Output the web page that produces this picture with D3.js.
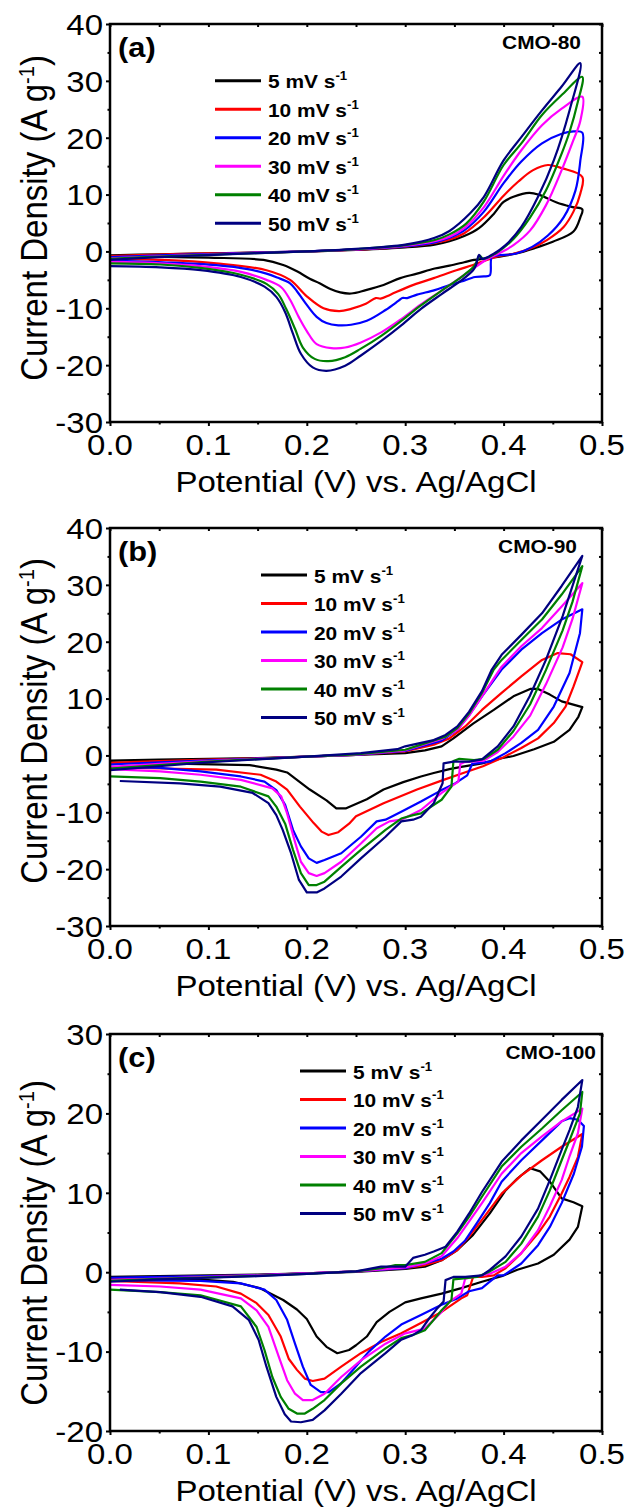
<!DOCTYPE html>
<html>
<head>
<meta charset="utf-8">
<script src="https://cdn.jsdelivr.net/npm/d3@7"></script>
<style>
  body { margin: 0; background: #fff; }
  svg { display: block; }
  text { font-family: "Liberation Sans", Arial, sans-serif; fill: #000; }
</style>
</head>
<body>
<svg id="chart" width="631" height="1512"></svg>
<script>
// scan rates and colours
const scanRates = [5, 10, 20, 30, 40, 50];
const colors = ["#000000", "#ff0000", "#0000ff", "#ff00ff", "#008000", "#000080"];

const panelTags = ["(a)", "(b)", "(c)"];
const sampleNames = ["CMO-80", "CMO-90", "CMO-100"];
const yDomains = [[-30, 40], [-30, 40], [-20, 30]];
const yTicks = [[-30, -20, -10, 0, 10, 20, 30, 40], [-30, -20, -10, 0, 10, 20, 30, 40], [-20, -10, 0, 10, 20, 30]];
const xTicks = [0, 0.1, 0.2, 0.3, 0.4, 0.5];
const xMinor = [0.05, 0.15, 0.25, 0.35, 0.45];

// CMO-80, [potential V, current density A/g], anodic then cathodic sweep
const a5 = [[0,-0.7],[0.05,-0.5],[0.1,-0.35],[0.15,-0.2],[0.2,-0.05],[0.25,0.25],[0.3,0.7],[0.33,1.2],[0.345,1.8],[0.36,2.7],[0.375,4.1],[0.39,6.6],[0.4,8.7],[0.41,9.6],[0.426,10.3],[0.437,9.9],[0.454,8.6],[0.47,7.8],[0.48,7.4],
  [0.478,6.0],[0.471,3.5],[0.45,1.7],[0.43,0.5],[0.413,-0.35],[0.396,-0.9],[0.383,-1.2],[0.37,-1.5],[0.36,-1.9],[0.345,-2.5],[0.33,-3.0],[0.312,-3.9],[0.295,-4.7],[0.278,-5.9],[0.26,-6.8],[0.245,-7.4],[0.234,-7.2],[0.224,-6.6],[0.213,-5.6],[0.203,-4.8],[0.19,-3.5],[0.176,-2.4],[0.156,-1.5],[0.1,-1.1],[0.054,-0.95],[0,-0.9]];
const a10 = [[0,-0.8],[0.05,-0.55],[0.1,-0.35],[0.15,-0.2],[0.2,0],[0.25,0.3],[0.3,0.85],[0.33,1.5],[0.345,2.1],[0.36,3.2],[0.38,6.0],[0.4,9.8],[0.415,12.3],[0.43,14.3],[0.445,15.2],[0.46,14.6],[0.48,13.1],
  [0.478,10.2],[0.471,7.0],[0.461,4.3],[0.444,2.0],[0.427,0.5],[0.41,-0.4],[0.396,-0.8],[0.383,-1.5],[0.369,-2.4],[0.352,-3.3],[0.329,-4.7],[0.305,-6.1],[0.285,-7.6],[0.275,-8.3],[0.27,-8.2],[0.26,-9.2],[0.245,-10.1],[0.233,-10.5],[0.217,-10.0],[0.2,-7.9],[0.183,-5.0],[0.159,-3.3],[0.108,-2.1],[0.054,-1.5],[0,-1.3]];
const a20 = [[0,-1.0],[0.05,-0.7],[0.1,-0.45],[0.15,-0.2],[0.2,0],[0.25,0.35],[0.3,0.9],[0.33,1.6],[0.345,2.4],[0.36,3.7],[0.38,7.0],[0.4,12.0],[0.418,15.8],[0.439,19.0],[0.459,20.7],[0.471,21.1],[0.48,20.9],
  [0.478,16],[0.473,10.7],[0.461,6.0],[0.445,2.8],[0.429,0.8],[0.412,-0.4],[0.394,-0.7],[0.388,-1.0],[0.386,-4.2],[0.38,-4.4],[0.371,-4.5],[0.357,-5.3],[0.345,-5.9],[0.33,-6.8],[0.312,-7.6],[0.302,-8.2],[0.297,-8.2],[0.293,-8.7],[0.28,-10.3],[0.261,-12.2],[0.245,-12.9],[0.232,-13.0],[0.22,-12.6],[0.21,-11.5],[0.2,-9.4],[0.19,-7.0],[0.183,-5.6],[0.17,-4.6],[0.159,-3.9],[0.14,-3.1],[0.108,-2.4],[0.054,-1.9],[0,-1.6]];
const a30 = [[0,-1.2],[0.05,-0.85],[0.1,-0.55],[0.15,-0.25],[0.2,0],[0.25,0.35],[0.3,1.0],[0.33,1.8],[0.345,2.6],[0.36,4.1],[0.38,7.8],[0.4,13.3],[0.418,17.8],[0.439,22.2],[0.459,25.1],[0.48,27.2],
  [0.478,23],[0.471,19.6],[0.459,14.3],[0.443,8.1],[0.427,3.7],[0.41,1.1],[0.398,-0.1],[0.384,-1.3],[0.371,-2.8],[0.357,-4.5],[0.337,-6.9],[0.316,-9.3],[0.296,-11.9],[0.276,-14.2],[0.255,-16.0],[0.239,-16.9],[0.225,-17.0],[0.21,-16.3],[0.2,-14.0],[0.192,-11.6],[0.183,-8.5],[0.174,-6.3],[0.159,-5.0],[0.133,-3.6],[0.092,-2.6],[0.051,-2.1],[0,-1.8]];
const a40 = [[0,-1.3],[0.05,-0.9],[0.1,-0.6],[0.15,-0.3],[0.2,0],[0.25,0.4],[0.3,1.1],[0.33,2.0],[0.345,3.0],[0.362,4.9],[0.38,8.8],[0.4,15.2],[0.418,19.0],[0.439,24.0],[0.459,27.5],[0.48,30.7],
  [0.475,26],[0.467,21],[0.459,17.2],[0.443,10.7],[0.427,6.0],[0.41,2.2],[0.394,-0.1],[0.379,-1.3],[0.376,-0.8],[0.372,-2.0],[0.369,-2.8],[0.357,-4.5],[0.337,-6.9],[0.316,-9.5],[0.296,-12.2],[0.276,-14.8],[0.255,-17.1],[0.239,-18.6],[0.222,-19.3],[0.208,-18.9],[0.196,-16.9],[0.188,-13.6],[0.179,-10.1],[0.171,-7.5],[0.159,-5.7],[0.133,-4.1],[0.092,-2.9],[0.051,-2.3],[0,-2.1]];
const a50 = [[0,-1.5],[0.05,-1.0],[0.1,-0.65],[0.15,-0.3],[0.2,0],[0.25,0.45],[0.3,1.2],[0.33,2.4],[0.345,3.6],[0.366,6.7],[0.38,9.6],[0.4,16.0],[0.418,20.1],[0.439,24.8],[0.459,29],[0.478,33.1],
  [0.467,24.8],[0.451,16],[0.435,9.6],[0.418,4.3],[0.402,1.1],[0.39,-0.4],[0.378,-1.3],[0.375,-0.6],[0.372,-2.4],[0.369,-3.3],[0.357,-5.1],[0.337,-7.5],[0.316,-10.1],[0.296,-13],[0.276,-15.7],[0.255,-18.3],[0.239,-20.1],[0.22,-21.0],[0.206,-20.4],[0.194,-18],[0.186,-14.5],[0.178,-10.7],[0.169,-8.0],[0.157,-6.2],[0.133,-4.5],[0.092,-3.3],[0.051,-2.8],[0,-2.6]];

// CMO-90
const b5 = [[0,-0.9],[0.05,-0.75],[0.1,-0.6],[0.15,-0.45],[0.2,-0.2],[0.25,0.1],[0.3,0.4],[0.32,0.9],[0.337,1.6],[0.349,3.0],[0.369,5.6],[0.39,8.0],[0.41,10.4],[0.427,11.7],[0.435,11.7],[0.447,10.7],[0.459,9.5],[0.48,8.5],
  [0.476,6.8],[0.467,4.5],[0.451,2.4],[0.431,1.1],[0.41,-0.1],[0.398,-0.5],[0.378,-1.4],[0.357,-2.0],[0.345,-2.4],[0.329,-3.1],[0.316,-3.7],[0.298,-4.7],[0.278,-6.0],[0.261,-7.7],[0.24,-9.3],[0.23,-9.3],[0.22,-7.9],[0.203,-6.0],[0.19,-4.3],[0.18,-3.0],[0.169,-2.5],[0.142,-1.7],[0.054,-1.4],[0,-1.3]];
const b10 = [[0,-1.3],[0.05,-1.0],[0.1,-0.75],[0.15,-0.5],[0.2,-0.2],[0.25,0.1],[0.3,0.7],[0.329,1.9],[0.345,3.0],[0.361,5.1],[0.378,8.0],[0.398,11.0],[0.418,13.9],[0.439,16.8],[0.455,18.0],[0.468,17.8],[0.48,16.4],
  [0.471,12.1],[0.463,8.6],[0.451,5.7],[0.435,3.0],[0.418,1.3],[0.4,-0.3],[0.379,-1.9],[0.359,-3.1],[0.339,-4.3],[0.312,-6.0],[0.278,-8.4],[0.25,-10.7],[0.243,-12.0],[0.232,-13.5],[0.222,-14.0],[0.215,-13.4],[0.207,-11.9],[0.193,-9.0],[0.18,-6.0],[0.169,-4.6],[0.153,-3.4],[0.108,-2.5],[0.054,-2.3],[0,-2.1]];
const b20 = [[0,-1.6],[0.05,-1.2],[0.1,-0.85],[0.15,-0.55],[0.2,-0.2],[0.25,0.1],[0.3,0.8],[0.316,1.6],[0.337,2.6],[0.353,4.5],[0.365,7.1],[0.378,10.4],[0.398,15.1],[0.418,18.6],[0.439,21.5],[0.459,23.9],[0.48,25.7],
  [0.4776,21.5],[0.467,14.5],[0.451,8.6],[0.435,4.5],[0.418,2.2],[0.402,0.4],[0.386,-1.1],[0.368,-1.5],[0.363,-3.5],[0.35,-5.0],[0.337,-6.1],[0.316,-8.1],[0.296,-9.9],[0.28,-11.3],[0.271,-11.6],[0.255,-14.3],[0.235,-17.2],[0.218,-18.4],[0.21,-18.9],[0.202,-18.1],[0.194,-16.0],[0.186,-13.1],[0.178,-8.7],[0.169,-6.1],[0.157,-4.6],[0.133,-3.7],[0.092,-2.8],[0.051,-2.2],[0,-2.0]];
const b30 = [[0,-2.0],[0.05,-1.5],[0.1,-1.0],[0.15,-0.6],[0.2,-0.2],[0.25,0.15],[0.3,0.9],[0.337,2.9],[0.353,4.5],[0.365,7.0],[0.378,10.4],[0.398,15.6],[0.418,19.2],[0.439,22.4],[0.459,26.2],[0.48,30.3],
  [0.47,24],[0.46,19],[0.443,12.5],[0.427,7],[0.41,3.3],[0.394,0.6],[0.38,-0.9],[0.36,-1.2],[0.356,-1.5],[0.354,-4.6],[0.337,-6.6],[0.316,-9.6],[0.296,-11.3],[0.284,-11.6],[0.271,-12.8],[0.255,-15.5],[0.235,-18.7],[0.218,-20.7],[0.21,-21.2],[0.202,-20.7],[0.194,-18.7],[0.188,-15.2],[0.18,-10.2],[0.174,-7.2],[0.165,-5.8],[0.133,-4.3],[0.092,-3.4],[0.051,-2.8],[0,-2.4]];
const b40 = [[0,-2.3],[0.05,-1.7],[0.1,-1.1],[0.15,-0.65],[0.2,-0.2],[0.25,0.2],[0.3,1.0],[0.316,1.9],[0.341,3.3],[0.353,4.8],[0.365,7.4],[0.378,11.0],[0.39,15.1],[0.398,16.8],[0.418,20.3],[0.439,23.9],[0.459,28.3],[0.48,33.3],
  [0.47,27],[0.46,22],[0.443,15],[0.427,9],[0.41,4.3],[0.394,1.0],[0.38,-0.6],[0.37,-0.8],[0.355,-0.6],[0.349,-1.0],[0.347,-5.5],[0.337,-7.8],[0.316,-10.2],[0.308,-10.5],[0.296,-11.1],[0.28,-13.1],[0.255,-16.6],[0.235,-19.6],[0.218,-22.2],[0.21,-22.8],[0.202,-22.8],[0.194,-20.7],[0.186,-16.6],[0.178,-12.0],[0.169,-9.0],[0.161,-7.2],[0.133,-5.5],[0.092,-4.6],[0.051,-4.0],[0,-3.7]];
const b50 = [[0,-2.6],[0.05,-1.9],[0.1,-1.2],[0.15,-0.7],[0.2,-0.2],[0.255,0.4],[0.292,1.1],[0.3,1.6],[0.316,2.2],[0.329,2.7],[0.341,3.6],[0.353,5.1],[0.365,7.7],[0.378,11.3],[0.388,15.1],[0.398,17.7],[0.418,21.2],[0.439,25.0],[0.459,29.8],[0.48,35.1],
  [0.46,24.5],[0.443,16.8],[0.4265,10.4],[0.41,5.1],[0.394,1.6],[0.378,-0.7],[0.365,-1.1],[0.349,-1.1],[0.339,-1.4],[0.338,-4.9],[0.329,-8.4],[0.316,-10.8],[0.308,-11.3],[0.296,-11.6],[0.28,-14.3],[0.255,-18.1],[0.235,-21.3],[0.218,-23.4],[0.21,-24.1],[0.2,-24.1],[0.192,-21.9],[0.184,-17.2],[0.1755,-13.1],[0.169,-10.5],[0.161,-8.4],[0.145,-6.6],[0.112,-5.5],[0.071,-4.9],[0.01,-4.5]];

// CMO-100
const c5 = [[0,-0.6],[0.05,-0.5],[0.1,-0.4],[0.15,-0.3],[0.2,-0.15],[0.25,0.05],[0.3,0.4],[0.32,0.7],[0.337,1.5],[0.353,2.8],[0.369,4.7],[0.386,7.4],[0.402,10.3],[0.414,11.8],[0.427,13.1],[0.437,12.7],[0.447,11.4],[0.459,9.3],[0.471,8.8],[0.48,8.3],
  [0.4755,5.7],[0.467,4.1],[0.451,2.2],[0.435,1.1],[0.414,0.3],[0.398,-0.5],[0.378,-1.2],[0.357,-2.0],[0.337,-2.7],[0.316,-3.3],[0.3,-3.8],[0.284,-5.0],[0.271,-6.3],[0.261,-8.1],[0.25,-9.2],[0.243,-9.8],[0.231,-10.2],[0.22,-9.4],[0.21,-8.1],[0.2,-5.9],[0.19,-4.7],[0.176,-3.5],[0.152,-2.0],[0.125,-1.2],[0.1,-1.0],[0.05,-0.9],[0,-0.8]];
const c10 = [[0,-0.8],[0.05,-0.65],[0.1,-0.5],[0.15,-0.35],[0.2,-0.15],[0.25,0.1],[0.3,0.5],[0.32,0.9],[0.337,1.5],[0.353,2.8],[0.365,4.5],[0.378,6.6],[0.398,9.9],[0.418,12.2],[0.439,14.1],[0.459,15.8],[0.48,17.4],
  [0.4755,14.5],[0.467,12.0],[0.459,9.9],[0.447,7.0],[0.435,4.9],[0.418,2.4],[0.402,0.5],[0.39,-0.4],[0.378,-0.6],[0.369,-0.6],[0.363,-2.9],[0.357,-3.3],[0.337,-5.0],[0.316,-6.4],[0.296,-7.7],[0.2755,-8.8],[0.255,-10.2],[0.235,-11.9],[0.218,-13.4],[0.206,-13.7],[0.198,-13.4],[0.19,-12.3],[0.1816,-10.9],[0.1735,-8.1],[0.161,-5.4],[0.149,-3.9],[0.133,-2.7],[0.108,-1.8],[0.071,-1.4],[0,-1.1]];
const c20 = [[0,-0.7],[0.05,-0.6],[0.1,-0.5],[0.15,-0.35],[0.2,-0.15],[0.25,0.1],[0.3,0.5],[0.32,1.1],[0.337,1.7],[0.349,2.6],[0.361,4.0],[0.373,6.2],[0.386,8.7],[0.398,11.4],[0.418,14.1],[0.439,16.6],[0.459,19.0],[0.467,19.4],[0.4755,19.2],[0.4816,18.4],
  [0.4796,15.8],[0.4714,12.4],[0.459,8.7],[0.447,5.7],[0.435,3.4],[0.418,1.1],[0.406,0.1],[0.4,-0.4],[0.394,-0.4],[0.386,-1.2],[0.378,-2.0],[0.365,-2.4],[0.353,-3.3],[0.337,-4.1],[0.316,-5.4],[0.296,-6.6],[0.28,-8.1],[0.263,-10.0],[0.247,-12.3],[0.2347,-14.0],[0.2224,-15.1],[0.2143,-15.1],[0.204,-14.2],[0.196,-11.9],[0.188,-9.0],[0.18,-6.0],[0.169,-3.5],[0.157,-2.2],[0.133,-1.4],[0.092,-1.1],[0,-1.0]];
const c30 = [[0,-1.0],[0.05,-0.8],[0.1,-0.6],[0.15,-0.4],[0.2,-0.15],[0.25,0.1],[0.3,0.6],[0.32,1.1],[0.337,2.0],[0.353,4.3],[0.365,6.4],[0.378,8.7],[0.398,12.4],[0.418,15.0],[0.439,17.1],[0.459,19.0],[0.48,20.6],
  [0.4755,17.5],[0.467,14.6],[0.459,11.6],[0.447,8.3],[0.435,5.3],[0.418,2.4],[0.402,0.7],[0.386,-0.2],[0.369,-0.6],[0.361,-0.8],[0.357,-2.7],[0.345,-3.7],[0.337,-5.0],[0.32,-7.1],[0.3,-7.7],[0.28,-9.0],[0.255,-11.1],[0.235,-13.2],[0.218,-15.3],[0.206,-16.1],[0.196,-16.1],[0.188,-15.3],[0.18,-13.6],[0.1714,-10.6],[0.161,-6.9],[0.149,-4.8],[0.133,-3.3],[0.092,-2.2],[0.051,-1.8],[0,-1.6]];
const c40 = [[0,-1.1],[0.05,-0.85],[0.1,-0.65],[0.15,-0.45],[0.2,-0.2],[0.25,0.1],[0.2755,0.5],[0.29,0.9],[0.3,0.9],[0.32,1.3],[0.337,2.4],[0.353,4.9],[0.365,7.0],[0.378,9.5],[0.398,13.3],[0.418,15.8],[0.439,18.1],[0.459,20.4],[0.48,22.7],
  [0.4776,20],[0.467,16.6],[0.459,14.1],[0.447,10.3],[0.435,7.0],[0.418,3.6],[0.402,1.3],[0.386,0.1],[0.373,-0.6],[0.357,-0.8],[0.349,-0.9],[0.347,-3.5],[0.337,-4.8],[0.329,-6.0],[0.32,-7.3],[0.308,-7.9],[0.296,-8.3],[0.28,-9.6],[0.255,-11.9],[0.235,-14.0],[0.218,-16.1],[0.206,-17.2],[0.198,-17.8],[0.19,-17.8],[0.1816,-17.2],[0.1735,-15.7],[0.165,-13.2],[0.157,-9.8],[0.149,-6.9],[0.133,-4.3],[0.092,-2.9],[0.051,-2.5],[0,-2.2]];
const c50 = [[0,-1.2],[0.05,-0.9],[0.1,-0.7],[0.15,-0.5],[0.2,-0.2],[0.25,0.1],[0.2755,0.7],[0.3,0.7],[0.308,1.8],[0.32,2.2],[0.329,2.6],[0.341,3.2],[0.353,5.1],[0.365,7.4],[0.378,10.1],[0.398,13.9],[0.418,16.6],[0.439,19.2],[0.459,21.7],[0.48,24.2],
  [0.4755,20.8],[0.467,17.9],[0.459,15.4],[0.447,11.6],[0.435,8.0],[0.418,4.5],[0.402,2.0],[0.386,0.3],[0.378,-0.4],[0.361,-0.6],[0.349,-0.6],[0.341,-1.0],[0.339,-3.7],[0.333,-4.5],[0.3245,-5.8],[0.316,-7.3],[0.308,-7.9],[0.296,-8.5],[0.28,-10.2],[0.255,-12.7],[0.235,-15.3],[0.218,-17.4],[0.206,-18.6],[0.194,-18.9],[0.184,-18.8],[0.1776,-17.9],[0.169,-15.7],[0.159,-11.9],[0.151,-8.5],[0.141,-6.0],[0.1245,-4.3],[0.092,-3.1],[0.051,-2.5],[0.01,-2.2]];

const curves = [[a5, a10, a20, a30, a40, a50], [b5, b10, b20, b30, b40, b50], [c5, c10, c20, c30, c40, c50]];

// layout
const svg = d3.select("#chart");
const left = 110, right = 602;
const tops = [24, 528, 1034];
const heights = [398, 398, 397];
const legendX = [215, 261, 300];
const legendY = [80.7, 575, 1071];
const nameRight = [581, 577, 596];
const ylabelY = [218, 721, 1243];
const sx = 1.1; // the source glyphs are a little wide

const x = d3.scaleLinear().domain([0, 0.5]).range([left, right]);

function stretched(sel, tx, ty) {
  return sel.attr("transform", `translate(${tx},${ty}) scale(${sx},1)`);
}

curves.forEach((set, i) => {
  const top = tops[i], bottom = top + heights[i];
  const y = d3.scaleLinear().domain(yDomains[i]).range([bottom, top]);
  const yMinor = yTicks[i].slice(0, -1).map(v => v + 5);
  const g = svg.append("g");

  const line = d3.line()
    .x(d => x(d[0]))
    .y(d => y(d[1]))
    .curve(i === 0 ? d3.curveCatmullRom.alpha(0.5) : d3.curveLinear);

  set.forEach((pts, k) => {
    g.append("path")
      .attr("d", line(pts))
      .attr("fill", "none")
      .attr("stroke", colors[k])
      .attr("stroke-width", 2.2)
      .attr("stroke-linejoin", "round");
  });

  // frame and ticks
  g.append("rect")
    .attr("x", left).attr("y", top)
    .attr("width", right - left).attr("height", bottom - top)
    .attr("fill", "none").attr("stroke", "#000").attr("stroke-width", 2.5);

  const tickAxes = [
    [d3.axisBottom(x).tickValues(xTicks).tickSize(4), `translate(0,${bottom})`],
    [d3.axisBottom(x).tickValues(xMinor).tickSize(2.5), `translate(0,${bottom})`],
    [d3.axisTop(x).tickValues(xTicks.concat(xMinor)).tickSize(-3), `translate(0,${top})`],
    [d3.axisLeft(y).tickValues(yTicks[i]).tickSize(4), `translate(${left},0)`],
    [d3.axisLeft(y).tickValues(yMinor).tickSize(2.5), `translate(${left},0)`],
    [d3.axisRight(y).tickValues(yTicks[i].concat(yMinor)).tickSize(-3), `translate(${right},0)`]
  ];
  tickAxes.forEach(([ax, tr]) => {
    const a = g.append("g").attr("transform", tr).call(ax.tickFormat("").tickSizeOuter(0));
    a.select(".domain").remove();
    a.selectAll("line").attr("stroke", "#000").attr("stroke-width", 2);
  });

  // tick labels
  xTicks.forEach(v => {
    stretched(g.append("text"), x(v), bottom + 33)
      .attr("text-anchor", "middle").style("font-size", "30px")
      .text(v.toFixed(1));
  });
  yTicks[i].forEach(v => {
    stretched(g.append("text"), left - 7, y(v) + 10.8)
      .attr("text-anchor", "end").style("font-size", "30px")
      .text(String(v));
  });

  // axis titles
  stretched(g.append("text"), (left + right) / 2, bottom + 70)
    .attr("text-anchor", "middle").style("font-size", "30px")
    .text("Potential (V) vs. Ag/AgCl");

  const yl = g.append("text")
    .attr("transform", `translate(47,${ylabelY[i]}) scale(${sx},1) rotate(-90)`)
    .attr("text-anchor", "middle").style("font-size", "33px");
  yl.append("tspan").text("Current Density (A g");
  yl.append("tspan").attr("dy", -12).style("font-size", "20px").text("-1");
  yl.append("tspan").attr("dy", 12).text(")");

  // panel tag and sample name
  stretched(g.append("text"), 118, top + 33)
    .style("font-size", "28px").style("font-weight", "bold")
    .text(panelTags[i]);
  stretched(g.append("text"), nameRight[i], top + 25)
    .attr("text-anchor", "end").style("font-size", "19px").style("font-weight", "bold")
    .text(sampleNames[i]);

  // legend
  scanRates.forEach((r, k) => {
    const ly = legendY[i] + 28.5 * k;
    g.append("line")
      .attr("x1", legendX[i]).attr("x2", legendX[i] + 46)
      .attr("y1", ly).attr("y2", ly)
      .attr("stroke", colors[k]).attr("stroke-width", 3);
    const t = stretched(g.append("text"), legendX[i] + 53, ly + 7.5)
      .style("font-size", "19px").style("font-weight", "bold");
    t.append("tspan").text(`${r} mV s`);
    t.append("tspan").attr("dy", -8).style("font-size", "12px").text("-1");
  });
});
</script>
</body>
</html>
